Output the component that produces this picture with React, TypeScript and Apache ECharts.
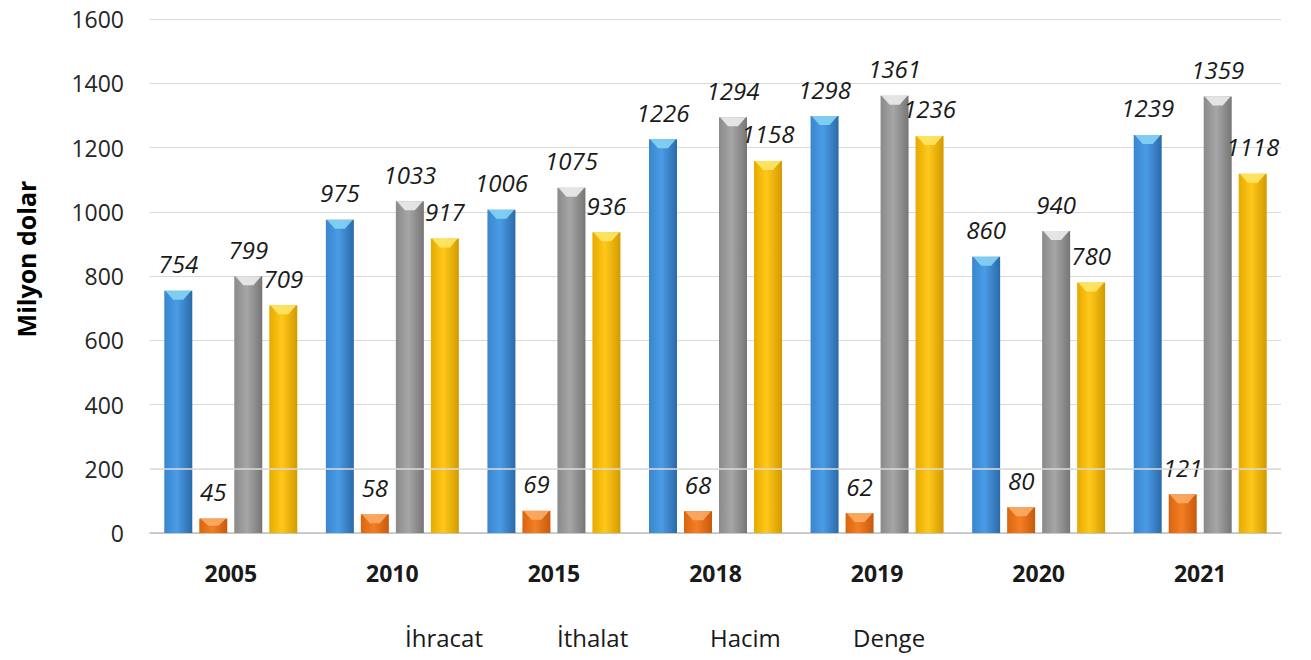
import React, { useEffect, useRef } from "react";
import * as echarts from "echarts";

const categories = ["2005", "2010", "2015", "2018", "2019", "2020", "2021"];
const ihracat = [754, 975, 1006, 1226, 1298, 860, 1239];
const ithalat = [45, 58, 69, 68, 62, 80, 121];
const hacim = [799, 1033, 1075, 1294, 1361, 940, 1359];
const denge = [709, 917, 936, 1158, 1236, 780, 1118];
const seriesNames = ["İhracat", "İthalat", "Hacim", "Denge"];

const FONT = "'Open Sans', 'Noto Sans', sans-serif";
const BAR_W = 28;
const BAR_GAP = 7;
const LEGEND_X = [395, 547, 700, 843];

function grad(edge: string, mid: string, edge2: string) {
  return new echarts.graphic.LinearGradient(0, 0, 1, 0, [
    { offset: 0, color: edge },
    { offset: 0.45, color: mid },
    { offset: 1, color: edge2 },
  ]);
}

export default function App() {
  const ref = useRef<HTMLDivElement>(null);
  useEffect(() => {
    if (!ref.current) return;
    document.body.style.margin = "0";
    const chart = echarts.init(ref.current, undefined, { renderer: "svg" });
    const colors = [
      grad("#3a86cf", "#4a9be6", "#2b6aa8"),
      grad("#d9650f", "#f57e22", "#c85a0c"),
      grad("#8a8a8a", "#a6a6a6", "#767676"),
      grad("#e6aa00", "#ffc81a", "#d39a00"),
    ];
    const capColors = ["#86d3f5", "#f9ab66", "#ececec", "#ffe566"];
    const datas = [ihracat, ithalat, hacim, denge];
    const series: any[] = datas.map((d, i) => ({
      name: seriesNames[i],
      type: "bar",
      data: d,
      barWidth: BAR_W,
      barGap: (BAR_GAP / BAR_W) * 100 + "%",
      itemStyle: { color: colors[i] },
      label: {
        show: true,
        position: "top",
        distance: 15,
        fontFamily: FONT,
        fontStyle: "italic",
        fontSize: 24,
        color: "#1a1a1a",
      },
    }));
    datas.forEach((d, i) => {
      const offset = (i - 1.5) * (BAR_W + BAR_GAP);
      series.push({
        name: "cap" + i,
        type: "custom",
        silent: true,
        z: 3,
        data: d.map((v, k) => [k, v]),
        renderItem: (params: any, api: any) => {
          const p = api.coord([api.value(0), api.value(1)]);
          const xc = p[0] + offset;
          const y = p[1];
          const h = Math.min(9, (api.coord([0, 0])[1] - y) / 2);
          return {
            type: "polygon",
            shape: {
              points: [
                [xc - BAR_W / 2 + 1, y],
                [xc + BAR_W / 2 - 1, y],
                [xc + 5, y + h],
                [xc - 5, y + h],
              ],
            },
            style: { fill: capColors[i], opacity: 0.9 },
          };
        },
      });
    });
    series[3].markLine = {
      silent: true,
      symbol: "none",
      label: { show: false },
      lineStyle: { color: "#dcdcdc", width: 1.5, type: "solid" },
      data: [{ yAxis: 200 }],
    };
    const legends = seriesNames.map((n, i) => ({
      show: true,
      top: 620,
      left: LEGEND_X[i],
      icon: "rect",
      itemWidth: 0,
      itemHeight: 0,
      textStyle: { fontFamily: FONT, fontSize: 24, color: "#1a1a1a" },
      data: [n],
    }));
    chart.setOption({
      animation: false,
      color: ["#3a86cf", "#f57e22", "#a6a6a6", "#ffc81a"],
      grid: { left: 150, right: 30, top: 19, bottom: 127 },
      legend: legends,
      xAxis: {
        type: "category",
        data: categories,
        axisLine: { lineStyle: { color: "#bfbfbf", width: 1.5 } },
        axisTick: { show: false },
        axisLabel: {
          margin: 28,
          fontFamily: FONT,
          fontWeight: "bold",
          fontSize: 23,
          color: "#1a1a1a",
        },
      },
      yAxis: {
        type: "value",
        min: 0,
        max: 1600,
        interval: 200,
        name: "Milyon dolar",
        nameLocation: "middle",
        nameGap: 112,
        nameTextStyle: {
          fontFamily: FONT,
          fontWeight: "bold",
          fontSize: 25,
          color: "#000",
          padding: [0, 0, 0, 34],
        },
        axisLine: { show: false },
        axisTick: { show: false },
        splitLine: { lineStyle: { color: "#d9d9d9", width: 1 } },
        axisLabel: {
          margin: 26,
          fontFamily: FONT,
          fontSize: 23,
          color: "#262626",
          formatter: (v: number) => String(v),
        },
      },
      series,
    });
    return () => chart.dispose();
  }, []);
  return <div ref={ref} style={{ width: 1311, height: 660 }} />;
}
